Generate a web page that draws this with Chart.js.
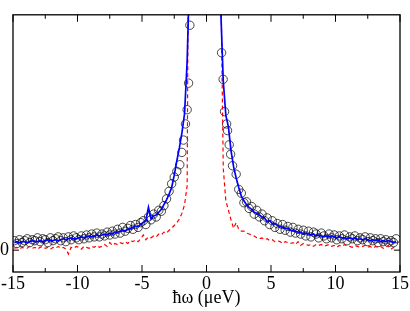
<!DOCTYPE html>
<html>
<head>
<meta charset="utf-8">
<script src="https://cdn.jsdelivr.net/npm/chart.js@4.4.1/dist/chart.umd.min.js"></script>
<style>
  html, body { margin: 0; padding: 0; background: #fff; }
  #wrap { width: 410px; height: 311px; }
</style>
</head>
<body>
<div id="wrap"><canvas id="myChart"></canvas></div>
<script>
// energy transfer grid (µeV) for the two curves, left and right wing
const xLeft = [-14.9, -14.7, -14.5, -14.3, -14.1, -13.9, -13.7, -13.5, -13.3, -13.1,
  -12.9, -12.7, -12.5, -12.3, -12.1, -11.9, -11.7, -11.5, -11.3, -11.1,
  -10.9, -10.7, -10.5, -10.3, -10.1, -9.9, -9.7, -9.5, -9.3, -9.1,
  -8.9, -8.7, -8.5, -8.3, -8.1, -7.9, -7.7, -7.5, -7.3, -7.1,
  -6.9, -6.7, -6.5, -6.3, -6.1, -5.9, -5.7, -5.5, -5.3, -5.1,
  -4.9, -4.7, -4.5, -4.3, -4.1, -3.9, -3.7, -3.5, -3.3, -3.1,
  -2.9, -2.7, -2.5, -2.3, -2.1, -1.9, -1.7, -1.5, -1.3]
const xRight = [1.1, 1.3, 1.5, 1.7, 1.9, 2.1, 2.3, 2.5, 2.7, 2.9,
  3.1, 3.3, 3.5, 3.7, 3.9, 4.1, 4.3, 4.5, 4.7, 4.9,
  5.1, 5.3, 5.5, 5.7, 5.9, 6.1, 6.3, 6.5, 6.7, 6.9,
  7.1, 7.3, 7.5, 7.7, 7.9, 8.1, 8.3, 8.5, 8.7, 8.9,
  9.1, 9.3, 9.5, 9.7, 9.9, 10.1, 10.3, 10.5, 10.7, 10.9,
  11.1, 11.3, 11.5, 11.7, 11.9, 12.1, 12.3, 12.5, 12.7, 12.9,
  13.1, 13.3, 13.5, 13.7, 13.9, 14.1, 14.3, 14.5, 14.7]

// measured points (open circles): denser near the elastic line
const xObsLeft = [-14.9, -14.7, -14.5, -14.3, -14.1, -13.9, -13.7, -13.5, -13.3, -13.1,
  -12.9, -12.7, -12.5, -12.3, -12.1, -11.9, -11.7, -11.5, -11.3, -11.1,
  -10.9, -10.7, -10.5, -10.3, -10.1, -9.9, -9.7, -9.5, -9.3, -9.1,
  -8.9, -8.7, -8.5, -8.3, -8.1, -7.9, -7.7, -7.5, -7.3, -7.1,
  -6.9, -6.7, -6.5, -6.3, -6.1, -5.9, -5.7, -5.5, -5.3, -5.1,
  -4.9, -4.7, -4.5, -4.3, -4.1, -3.9, -3.7, -3.5, -3.3, -3.1,
  -2.9, -2.7, -2.5, -2.3, -2.07, -1.91, -1.78, -1.63, -1.5, -1.39, -1.29]
const obsLeft = [10, 7, 11, 8, 10, 12, 8, 11, 10, 13,
  9, 12, 11, 8, 13, 10, 12, 14, 10, 13,
  9, 14, 11, 15, 13, 11, 15, 12, 16, 13,
  17, 14, 18, 14, 17, 15, 19, 16, 20, 17,
  22, 18, 24, 20, 23, 26, 22, 27, 24, 29,
  31, 27, 35, 32, 38, 35, 42, 41, 47, 54,
  62, 70, 77, 83, 90, 103, 116, 133, 148, 176, 237]
const xObsRight = [1.17, 1.29, 1.4, 1.56, 1.63, 1.76, 1.87, 2.02, 2.3, 2.5, 2.7, 2.9,
  3.1, 3.3, 3.5, 3.7, 3.9, 4.1, 4.3, 4.5, 4.7, 4.9,
  5.1, 5.3, 5.5, 5.7, 5.9, 6.1, 6.3, 6.5, 6.7, 6.9,
  7.1, 7.3, 7.5, 7.7, 7.9, 8.1, 8.3, 8.5, 8.7, 8.9,
  9.1, 9.3, 9.5, 9.7, 9.9, 10.1, 10.3, 10.5, 10.7, 10.9,
  11.1, 11.3, 11.5, 11.7, 11.9, 12.1, 12.3, 12.5, 12.7, 12.9,
  13.1, 13.3, 13.5, 13.7, 13.9, 14.1, 14.3, 14.5, 14.7]
const obsRight = [208, 180, 146, 133, 126, 111, 101, 89, 80, 64, 60, 50,
  51, 44, 46, 38, 42, 35, 38, 31, 34, 27,
  31, 24, 28, 22, 27, 21, 25, 19, 24, 18,
  22, 17, 21, 15, 20, 14, 19, 17, 13, 18,
  15, 12, 17, 13, 16, 11, 15, 12, 16, 10,
  14, 12, 15, 10, 13, 11, 14, 9, 13, 10,
  12, 8, 12, 9, 11, 8, 10, 8, 12]

// model (blue solid)
const fitLeft = [8, 9, 8, 9, 9, 8, 9, 10, 9, 9,
  10, 9, 10, 11, 10, 10, 11, 10, 11, 12,
  11, 12, 13, 12, 12, 13, 14, 13, 14, 15,
  14, 15, 16, 15, 16, 17, 16, 18, 17, 19,
  19, 20, 21, 20, 22, 23, 24, 25, 25, 27,
  29, 31, 45, 33, 36, 37, 40, 43, 48, 53,
  59, 66, 79, 94, 108, 124, 144, 199, 300]
const fitRight = [255, 178, 142, 130, 105, 88, 76, 66, 57, 52,
  48, 45, 43, 40, 39, 37, 35, 34, 30, 31,
  28, 28, 26, 25, 24, 23, 23, 21, 21, 20,
  19, 19, 17, 18, 17, 16, 17, 15, 16, 15,
  14, 15, 14, 15, 14, 13, 14, 13, 13, 12,
  13, 12, 13, 11, 12, 11, 12, 11, 10, 11,
  10, 11, 9, 10, 9, 10, 9, 8, 9]

// second component (red dashed)
const bgLeft = [2, 3, 1, 3, 2, 2, 4, 2, 3, 1,
  3, 4, 2, 3, 1, 3, 2, 4, 2, 3,
  1, -4, 3, 2, 4, 3, 1, 4, 3, 2,
  4, 3, 5, 3, 4, 6, 4, 8, 5, 7,
  6, 8, 7, 9, 7, 10, 9, 11, 9, 12,
  16, 11, 14, 13, 15, 14, 17, 16, 19, 18,
  21, 23, 26, 29, 33, 39, 48, 68, 600]
const bgRight = [300, 86, 52, 42, 32, 23, 29, 22, 20, 20,
  18, 17, 16, 15, 13, 12, 13, 11, 12, 10,
  11, 9, 10, 9, 7, 9, 8, 7, 8, 6,
  9, 5, 7, 6, 5, 6, 4, 6, 5, 6,
  4, 5, 6, 4, 5, 3, 5, 4, 6, 4,
  4, 3, 5, 4, 3, 4, 5, 3, 4, 2,
  4, 3, 4, 2, 3, 5, 1, 3, 2]

const yTicks = [0]

const serif = { family: "'Liberation Serif', 'Times New Roman', serif", size: 18 }
const pair = (xs, ys) => xs.map((x, i) => ({ x, y: ys[i] }))

const fitStyle = { showLine: true, borderColor: '#0000ff', borderWidth: 1.7, pointRadius: 0, order: 1 }
const bgStyle = { showLine: true, borderColor: '#ff0000', borderWidth: 1.2, borderDash: [4, 3], pointRadius: 0, order: 2 }
const obsStyle = {
  showLine: false, pointRadius: 4.2, pointBorderWidth: 0.9,
  pointBorderColor: 'rgba(0,0,0,0.8)', pointBackgroundColor: 'rgba(0,0,0,0)', order: 3,
}

// box frame plus inward ticks, like the original plot
const frameTicks = {
  id: 'frameTicks',
  afterDraw(chart) {
    const { ctx, chartArea: a, scales: { x, y } } = chart
    ctx.save()
    ctx.strokeStyle = '#000'
    ctx.lineWidth = 1
    ctx.beginPath()
    x.ticks.forEach(t => {
      const px = x.getPixelForValue(t.value)
      const len = t.value % 5 === 0 ? 7 : 4
      ctx.moveTo(px, a.bottom)
      ctx.lineTo(px, a.bottom - len)
      ctx.moveTo(px, a.top)
      ctx.lineTo(px, a.top + len)
    })
    y.ticks.forEach(t => {
      const py = y.getPixelForValue(t.value)
      ctx.moveTo(a.left, py)
      ctx.lineTo(a.left + 6, py)
      ctx.moveTo(a.right, py)
      ctx.lineTo(a.right - 6, py)
    })
    ctx.stroke()
    ctx.lineWidth = 1.3
    ctx.strokeRect(a.left, a.top, a.right - a.left, a.bottom - a.top)
    ctx.restore()
  },
}

new Chart(document.getElementById('myChart'), {
  type: 'scatter',
  data: {
    datasets: [
      { ...fitStyle, data: pair(xLeft, fitLeft) },
      { ...fitStyle, data: pair(xRight, fitRight) },
      { ...bgStyle, data: pair(xLeft, bgLeft) },
      { ...bgStyle, data: pair(xRight, bgRight) },
      { ...obsStyle, data: pair(xObsLeft, obsLeft) },
      { ...obsStyle, data: pair(xObsRight, obsRight) },
    ],
  },
  options: {
    responsive: true,
    maintainAspectRatio: false,
    animation: false,
    devicePixelRatio: 1,
    layout: { padding: { top: 1, right: 10, left: 0, bottom: 0 } },
    plugins: {
      legend: { display: false },
      tooltip: { enabled: false },
    },
    scales: {
      x: {
        type: 'linear',
        min: -15,
        max: 15,
        afterFit: s => { s.height = 39 },
        grid: { display: false, drawTicks: false },
        border: { display: false },
        ticks: {
          stepSize: 2.5,
          autoSkip: false,
          maxRotation: 0,
          padding: 1,
          color: '#000',
          font: serif,
          callback: v => (v % 5 === 0 ? v : ''),
        },
        title: {
          display: true,
          text: 'ħω (μeV)',
          color: '#000',
          font: serif,
          padding: { top: 0, bottom: 2 },
        },
      },
      y: {
        min: -23,
        max: 248,
        afterFit: s => { s.width = 13 },
        afterBuildTicks: s => { s.ticks = yTicks.map(v => ({ value: v })) },
        grid: { display: false, drawTicks: false },
        border: { display: false },
        ticks: { padding: 4, color: '#000', font: serif },
      },
    },
  },
  plugins: [frameTicks],
})
</script>
</body>
</html>
